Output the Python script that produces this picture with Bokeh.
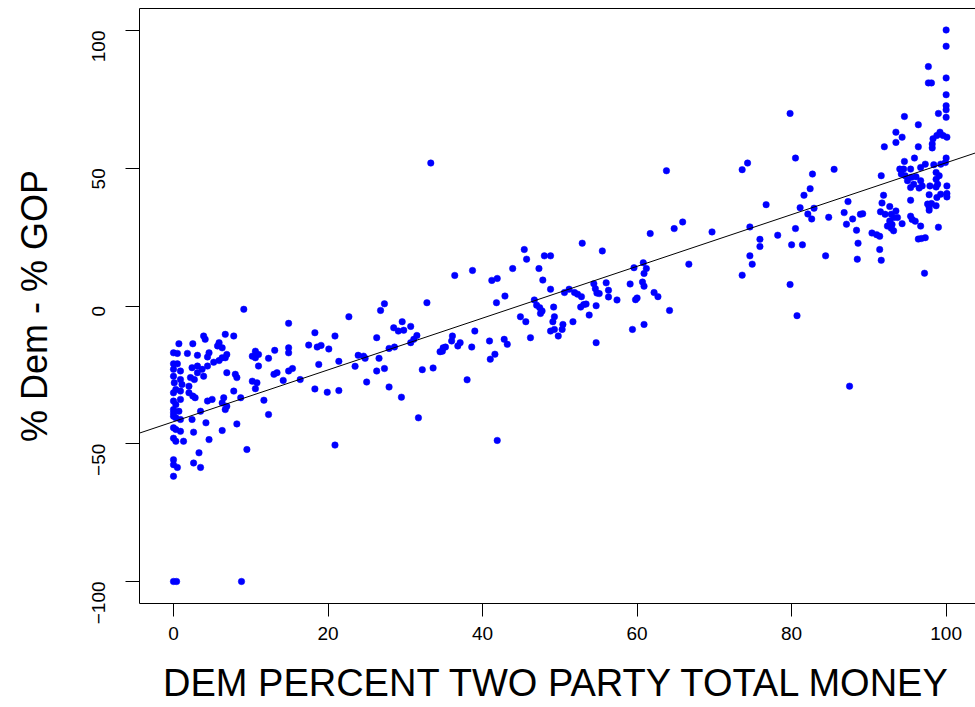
import math
from bokeh.plotting import figure
from bokeh.models import Range1d, FixedTicker, LinearAxis, Slope, ColumnDataSource
from bokeh.embed import file_html
from bokeh.resources import INLINE

# ---- data: (DEM percent of two-party money, % Dem - % GOP) ----
dem_money_pct = [
    # left cluster
    3.9, 4.1, 6.7, 7.8, 0.7, 2.5, 5.9, 5.7, 6.3,
    0.0, 0.5, 1.8, 3.1, 4.6, 4.4, 6.9, 6.7,
    0.0, 0.5, 0.0, 0.9, 2.4, 3.1, 3.7, 4.4, 5.2, 5.9, 6.3,
    6.9, 8.0, 8.2, 0.0, 0.1, 0.9, 3.1, 3.9, 2.2, 2.7, 1.1, 2.0, 10.2,
    0.0, 0.3, 0.9, 2.0, 2.5, 2.8, 7.8,
    0.0, 0.3, 0.9, 4.4, 5.0, 6.5, 6.3, 6.9, 6.7, 8.7,
    0.0, 0.0, 0.7, 3.5, 0.0, 0.3, 0.9, 2.4, 4.2, 8.2,
    0.0, 0.3, 0.9, 2.6, 6.3, 0.0, 0.3, 1.3, 4.6, 9.5, 3.3, 0.0, 2.6, 3.5, 0.0, 0.5, 0.0,
    9.1, 0.0, 0.4, 8.8,
    # 10 - 36
    27.3, 26.8, 32.8, 22.7, 14.9, 18.3, 20.9, 26.3,
    29.6, 28.5, 29.1, 29.8, 30.7, 31.5, 31.1, 30.7,
    27.9, 28.6, 34.8, 35.2, 10.6, 11.0, 10.2, 10.6,
    13.1, 14.9, 14.9, 17.5, 18.6, 19.1, 20.1, 12.3, 11.0,
    21.4, 18.8, 23.9, 24.6, 24.8, 26.6, 23.5, 26.3, 27.3,
    32.2, 33.6, 13.0, 13.4, 14.9, 15.4, 14.2, 16.4,
    10.8, 10.6, 11.7, 18.3, 19.9, 21.4, 25.0, 27.9, 29.5,
    12.3, 31.7, 20.9,
    # 32 - 65
    33.3, 63.8, 61.7, 52.9, 55.5, 45.4, 45.7, 48.0, 48.8,
    36.4, 38.7, 41.2, 41.9, 43.9, 47.3, 47.8, 48.8,
    42.9, 41.8, 46.7, 47.0, 47.4, 47.7, 47.5, 49.2,
    50.6, 51.2, 51.9, 52.3, 52.8, 52.7, 53.1, 53.4, 53.8,
    54.4, 54.6, 54.8, 55.1, 54.7, 56.0, 56.3, 56.3, 57.4, 59.1,
    59.6, 60.8, 61.2, 60.9, 60.7, 60.9, 59.8, 60.0, 62.2, 62.7,
    59.4, 60.9, 64.2, 44.9, 45.6, 49.3, 49.1, 48.8, 49.3,
    50.4, 50.3, 49.8, 51.7, 46.2, 39.0, 36.1, 36.0, 37.1, 36.8,
    38.6, 40.9, 42.8, 43.2, 34.9, 54.7,
    34.5, 41.6, 41.0, 38.0, 41.9,
    # 64 - 90
    79.8, 80.5, 73.6, 74.3, 82.7, 85.5, 82.4, 81.6, 76.7,
    81.1, 82.9, 82.1, 82.6, 84.8, 87.3, 86.8, 87.9, 87.1, 88.4, 88.9,
    64.8, 65.9, 69.7, 74.6, 75.9, 75.9, 78.2, 80.5, 80.0, 81.4,
    84.4, 88.6, 88.5, 66.7, 74.6, 74.9, 73.6, 79.8, 80.7, 87.5,
    # 90 - 100
    100.0, 100.0, 97.7, 97.7, 98.1, 100.0, 100.0, 100.0, 100.0, 100.0, 99.0,
    94.6, 96.4, 93.5, 94.3, 93.5, 99.2, 98.8, 99.6, 100.1, 98.3, 98.2, 98.2,
    92.0, 96.4, 94.6, 95.9, 100.0, 94.0, 94.5, 95.4, 96.7, 97.3, 98.4, 99.3, 99.9,
    91.6, 94.2, 94.7, 95.5, 96.1, 98.7, 99.1, 98.7, 98.9,
    95.0, 95.8, 96.7, 96.9, 95.4, 96.5, 97.9, 98.7, 100.1, 100.1, 100.1,
    91.9, 91.7, 97.8, 98.8, 99.3, 95.4, 97.6, 97.8, 98.1, 97.8, 98.7,
    91.5, 92.1, 92.7, 92.9, 93.5, 93.7, 92.7, 93.2, 93.0, 92.4, 92.9, 93.2,
    89.2, 90.4, 91.0, 91.4, 94.3, 95.4, 95.6, 96.0, 96.7, 99.0,
    91.4, 96.4, 96.8, 97.3, 91.6, 97.2,
]

dem_minus_gop = [
    # left cluster
    -10.9, -12.1, -10.3, -10.9, -13.7, -13.7, -13.3, -14.5, -15.2,
    -17.0, -17.2, -17.2, -17.9, -17.0, -18.5, -17.6, -18.8,
    -21.0, -21.0, -23.0, -23.6, -22.4, -21.8, -23.0, -21.8, -20.4, -19.8, -18.8,
    -24.2, -24.8, -26.0, -25.5, -27.9, -26.7, -24.2, -25.5, -26.0, -26.7, -28.5, -29.1, -27.3,
    -31.5, -30.3, -30.9, -31.5, -32.7, -33.3, -30.9,
    -34.5, -35.8, -33.9, -34.5, -33.9, -33.3, -35.2, -36.4, -37.6, -33.3,
    -37.6, -38.8, -38.2, -38.2, -40.0, -40.6, -41.2, -41.2, -42.4, -42.8,
    -44.2, -44.8, -45.5, -45.8, -45.2, -48.0, -49.1, -49.1, -48.5, -52.1, -53.3, -55.8, -57.0, -58.6, -57.6, -58.6, -61.8,
    -1.2, -100.0, -100.0, -100.0,
    # 10 - 36
    0.8, -1.6, 1.2, -3.9, -6.3, -9.7, -10.9, -11.5,
    -5.7, -7.9, -9.1, -8.8, -7.4, -10.7, -12.1, -13.3,
    -15.4, -14.9, -16.4, -14.9, -16.4, -17.6, -18.2, -18.8,
    -16.1, -15.2, -17.0, -14.2, -14.9, -14.3, -15.6, -19.0, -21.8,
    -20.1, -21.2, -17.9, -18.2, -19.0, -19.0, -21.9, -23.6, -22.7,
    -23.1, -22.5, -24.8, -24.2, -23.6, -22.7, -27.0, -26.7,
    -27.9, -30.0, -34.2, -30.1, -31.3, -30.7, -27.6, -29.4, -33.1,
    -39.4, -40.6, -50.5,
    # 32 - 65
    51.9, 49.1, 26.3, 22.8, 20.0, 20.5, 17.0, 18.2, 18.2,
    11.1, 12.9, 9.3, 10.0, 13.6, 13.6, 9.4, 6.1,
    3.6, 1.2, 2.2, 0.3, -0.6, -1.8, -2.7, -0.4,
    4.9, 6.1, 4.9, 4.3, 3.4, -0.4, 0.5, 0.7, -3.3,
    8.1, 6.3, 4.7, 4.5, 0.1, 8.4, 5.7, 3.3, 2.2, 8.0,
    13.9, 15.7, 13.6, 11.8, 8.7, 7.2, 2.3, 2.9, 4.9, 3.4,
    -8.5, -6.7, -1.6, -3.9, -5.7, -3.9, -5.7, -9.1, -8.5,
    -6.7, -8.5, -10.9, -5.7, -11.5, -9.1, -10.9, -12.7, -13.3, -14.5,
    -14.9, -12.7, -12.1, -13.9, -15.2, -13.3,
    -16.6, -17.5, -19.3, -26.8, -48.8,
    # 64 - 90
    69.9, 53.7, 49.5, 51.9, 47.9, 49.6, 42.6, 40.2, 36.8,
    35.7, 35.5, 33.4, 31.6, 32.2, 37.9, 33.9, 31.6, 29.7, 27.5, 33.3,
    28.1, 30.5, 26.9, 28.7, 24.2, 21.6, 25.7, 28.1, 22.2, 22.2,
    18.2, 22.8, 17.0, 15.2, 18.2, 15.2, 11.2, 7.8, -3.5, -29.1,
    # 90 - 100
    100.2, 94.3, 86.9, 81.0, 81.0, 82.8, 76.7, 72.7, 71.2, 68.5, 69.9,
    68.8, 65.8, 63.1, 61.3, 59.4, 63.1, 61.9, 61.9, 61.3, 60.7, 58.8, 57.4,
    57.8, 57.8, 52.5, 53.7, 53.7, 49.7, 49.7, 49.7, 50.3, 51.5, 51.3, 51.5, 52.1,
    47.3, 47.9, 47.3, 46.7, 46.9, 48.5, 47.3, 46.0, 44.2,
    45.5, 44.2, 45.5, 43.6, 43.0, 42.8, 43.6, 43.2, 43.6, 40.8, 39.6,
    40.2, 37.4, 40.4, 39.4, 40.6, 38.4, 37.0, 35.8, 37.2, 34.8, 36.4,
    34.2, 33.3, 36.1, 33.3, 34.5, 32.1, 30.9, 32.1, 29.6, 29.0, 28.2, 27.3,
    33.5, 26.5, 25.9, 25.3, 29.9, 32.6, 31.4, 30.8, 29.0, 28.6,
    20.5, 24.3, 24.5, 24.8, 16.6, 11.9,
]

x_ticks = [0, 20, 40, 60, 80, 100]
y_ticks = [-100, -50, 0, 50, 100]

# fitted regression line
fit_intercept = -42.0
fit_slope = 0.94

x_title = "DEM PERCENT TWO PARTY TOTAL MONEY"
y_title = "% Dem - % GOP"

FONT = "Liberation Sans"

p = figure(
    width=975, height=707,
    x_range=Range1d(-4.4, 103.8), y_range=Range1d(-108, 108),
    output_backend="svg", toolbar_location=None,
    min_border_left=139, min_border_right=0, min_border_top=8, min_border_bottom=104,
)
p.outline_line_color = None
p.grid.visible = False
p.background_fill_color = "white"
p.border_fill_color = "white"

# bottom axis
xa = p.xaxis[0]
xa.ticker = FixedTicker(ticks=x_ticks)
xa.axis_label = x_title
xa.axis_line_color = "black"
xa.major_tick_line_color = "black"
xa.major_tick_out = 13
xa.major_tick_in = 0
xa.minor_tick_line_color = None
xa.major_label_text_font = FONT
xa.major_label_text_font_size = "19px"
xa.major_label_text_color = "black"
xa.major_label_standoff = 10
xa.axis_label_text_font = FONT
xa.axis_label_text_font_size = "38px"
xa.axis_label_text_font_style = "normal"
xa.axis_label_text_color = "black"
xa.axis_label_standoff = 19

# left axis
ya = p.yaxis[0]
ya.ticker = FixedTicker(ticks=y_ticks)
ya.axis_label = y_title
ya.axis_line_color = "black"
ya.major_tick_line_color = "black"
ya.major_tick_out = 14
ya.major_tick_in = 0
ya.minor_tick_line_color = None
ya.major_label_orientation = math.pi / 2
ya.major_label_text_font = FONT
ya.major_label_text_font_size = "19px"
ya.major_label_text_color = "black"
ya.major_label_standoff = 27
ya.axis_label_text_font = FONT
ya.axis_label_text_font_size = "36px"
ya.axis_label_text_font_style = "normal"
ya.axis_label_text_color = "black"
ya.axis_label_standoff = 28

# top border line (box edge); the right edge of the box lies outside the picture
top = LinearAxis(ticker=FixedTicker(ticks=[]), axis_line_color="black",
                 major_tick_out=0, major_tick_in=0, minor_tick_out=0, minor_tick_in=0,
                 major_label_text_font_size="0px", major_label_standoff=0)
p.add_layout(top, "above")

src = ColumnDataSource(data=dict(x=dem_money_pct, y=dem_minus_gop))
p.scatter("x", "y", source=src, size=6.5, fill_color="#0000FF", line_color="#0000FF",
          line_width=0.5, marker="circle")

p.add_layout(Slope(gradient=fit_slope, y_intercept=fit_intercept,
                   line_color="black", line_width=1))

open("out.html", "w").write(file_html(p, INLINE))
